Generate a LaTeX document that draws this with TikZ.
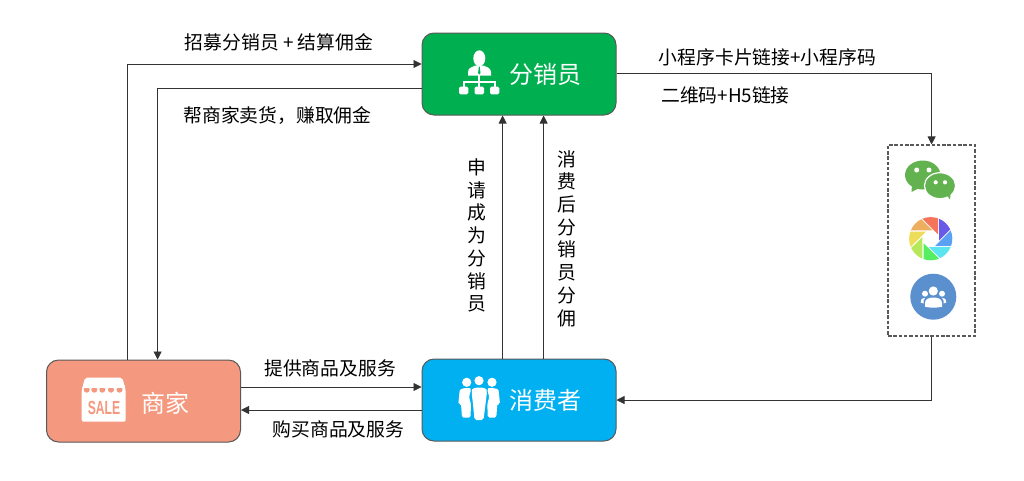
\documentclass[tikz,border=0pt]{standalone}
\usepackage{fontspec}
\setmainfont{Noto Sans CJK SC}
\newfontfamily\salefont{Liberation Sans}
\usetikzlibrary{arrows.meta,calc}
\definecolor{edgegray}{HTML}{595959}
\definecolor{linegray}{HTML}{333333}
\definecolor{fxgreen}{HTML}{00B050}
\definecolor{xfblue}{HTML}{00B0F0}
\definecolor{sjsalmon}{HTML}{F4997F}
\definecolor{wxgreen}{HTML}{62B34F}
\definecolor{circblue}{HTML}{5B90CF}
\tikzset{
  rolebox/.style={draw=edgegray,line width=1pt,rounded corners=12pt,minimum width=194pt,minimum height=82pt,inner sep=0pt},
  roletext/.style={text=white,font=\fontsize{24}{28}\selectfont,inner sep=0pt},
  lbl/.style={text=black,font=\fontsize{18.8}{22}\selectfont,inner sep=0pt},
  vlbl/.style={text=black,font=\fontsize{18.8}{22.7}\selectfont,inner sep=0pt,align=center},
  conn/.style={draw=linegray,line width=0.8pt,-{Triangle[length=8pt,width=8pt]}},
  poolbox/.style={draw=edgegray,line width=1.1pt,dash pattern=on 3.5pt off 1.8pt,minimum width=87pt,minimum height=191pt,inner sep=0pt},
}
\begin{document}
\begin{tikzpicture}[x=1pt,y=-1pt]
\useasboundingbox (0,0) rectangle (1024,480);
\fill[white] (0,0) rectangle (1024,480);

% boxes
\node[rolebox,fill=fxgreen] (fx) at (519,74) {};
\node[rolebox,fill=xfblue] (xf) at (519,400) {};
\node[rolebox,fill=sjsalmon] (sj) at (143.5,401) {};
\node[poolbox] (pool) at (931.5,240.5) {};

% route helpers
\coordinate (upx) at (127.6,64);
\coordinate (downx) at (157.6,88);
\coordinate (sellout) at (240,387);
\coordinate (buyin) at (240,410);
\coordinate (joinx) at (502.6,240);
\coordinate (sharex) at (543.6,240);
\coordinate (outy) at (931.6,73);
\coordinate (backy) at (931.6,400);

% connectors
\draw[conn] (upx |- sj.north) -- (upx) -- (upx -| fx.west);
\draw[conn] (downx -| fx.west) -- (downx) -- (downx |- sj.north);
\draw[conn] (sellout -| sj.east) -- (sellout -| xf.west);
\draw[conn] (buyin -| xf.west) -- (buyin -| sj.east);
\draw[conn] (joinx |- xf.north) -- (joinx |- fx.south);
\draw[conn] (sharex |- xf.north) -- (sharex |- fx.south);
\draw[conn] (outy -| fx.east) -- (outy) -- (outy |- pool.north);
\draw[conn] (backy |- pool.south) -- (backy) -- (backy -| xf.east);

% texts
\node[roletext] (fxt) at (545,74) {分销员};
\node[roletext] (xft) at (545,400) {消费者};
\node[roletext] (sjt) at (165,403) {商家};
\node[lbl] (l1) at (279,42.7) {招募分销员 + 结算佣金};
\node[lbl] (l2) at (277.5,116) {帮商家卖货，赚取佣金};
\node[lbl] (l3) at (767.5,57) {小程序卡片链接+小程序码};
\node[lbl] (l4) at (725.5,95) {二维码+H5链接};
\node[lbl] (l5) at (330,368) {提供商品及服务};
\node[lbl] (l6) at (338.5,429) {购买商品及服务};
\node[vlbl] (v1) at (477,235.5) {申\\请\\成\\为\\分\\销\\员};
\node[vlbl] (v2) at (567,238.5) {消\\费\\后\\分\\销\\员\\分\\佣};

% organisation icon
\fill[white] (479.3,58.3) ellipse (6 and 8);
\fill[white] (468,75.5) -- (468,72) .. controls (468,68) and (472,67) .. (475,65.5) -- (483.5,65.5) .. controls (486.5,67) and (491,68) .. (491,72) -- (491,75.5) -- cycle;
\fill[fxgreen] (478.9,66.5) -- (479.7,66.5) -- (480.5,73) -- (479.3,74.5) -- (478.1,73) -- cycle;
\draw[white,line width=1.7pt] (479.3,75) -- (479.3,87) (463.7,87) -- (463.7,82.3) -- (495,82.3) -- (495,87);
\fill[white,rounded corners=1.5pt] (459,86.7) rectangle (468.3,94.3);
\fill[white,rounded corners=1.5pt] (474.5,86.7) rectangle (484,94.3);
\fill[white,rounded corners=1.5pt] (490,86.7) rectangle (499.3,94.3);

% people icon
\foreach \hx/\hy in {466.7/382.3,479/380.7,492/382.3} \fill[white] (\hx,\hy) circle (4.6);
\fill[white,rounded corners=1.5pt] (458.3,404) -- (459.5,392) .. controls (460,389) and (464,388) .. (467,388) .. controls (469,388) and (470.5,388.5) .. (471,390) -- (469,397) -- (471,404) -- (470.5,417.5) -- (462,417.5) -- (461,404) -- cycle;
\fill[white,rounded corners=1.5pt] (500,404) -- (498.8,392) .. controls (498.3,389) and (494.3,388) .. (491.3,388) .. controls (489.3,388) and (487.8,388.5) .. (487.3,390) -- (489.3,397) -- (487.3,404) -- (487.8,417.5) -- (496.3,417.5) -- (497.3,404) -- cycle;
\fill[white,rounded corners=2pt] (471.5,392) .. controls (472,388.5) and (476,387.5) .. (479.3,387.5) .. controls (482.5,387.5) and (486.5,388.5) .. (487,392) -- (485.5,404) -- (483.5,420) -- (474.5,420) -- (473,404) -- cycle;

% sale icon
\fill[white,rounded corners=2pt] (81.7,421.7) -- (81.7,390) -- (85,377.7) -- (122.3,377.7) -- (125.7,390) -- (125.7,421.7) -- cycle;
\foreach \sx in {86.7,94.3,102.3,111,119.5} \fill[sjsalmon] (\sx,389.7) circle (3);
\fill[white] (83,385) rectangle (124.5,388);
\node[text=sjsalmon,inner sep=0pt,xscale=0.64,font=\salefont\bfseries\fontsize{19}{20}\selectfont] (saletxt) at (104,407.5) {SALE};

% wechat icon
\fill[wxgreen] (922.7,175) ellipse (17.7 and 14.5);
\fill[wxgreen] (912,184) -- (911.5,192) -- (921,187) -- cycle;
\fill[white] (916.7,170) circle (2.5) (929,170) circle (2.5);
\fill[wxgreen,draw=white,line width=1.2pt] (940,185.7) ellipse (15.6 and 13);
\fill[wxgreen] (946,194) -- (950,199.5) -- (951,190) -- cycle;
\fill[white] (935.7,182.3) circle (2.1) (945,182.3) circle (2.1);

% aperture icon
\begin{scope}[shift={(930.7,238.7)},x=1pt,y=1pt]
  \foreach \ang/\col in {0/6A5AE8,-45/5AA0F5,-90/5CE5EE,-135/55EE60,-180/B5E85A,-225/EEDD5A,-270/EEAE60,-315/F5745A}{
    \definecolor{bladecol}{HTML}{\col}
    \fill[bladecol,rotate=\ang] (67.5:21.6) arc[start angle=67.5,end angle=25.5,radius=21.6] -- (8.3,-1.8) -- cycle;
  }
\end{scope}

% group icon
\fill[circblue] (933.3,296.7) circle (23);
\fill[white] (933.3,291) circle (4.6) (925,293.7) circle (3) (942,293.7) circle (3);
\fill[circblue] (925,297) rectangle (942,299);
\fill[white] (925,306.7) -- (925,303) .. controls (925,299) and (929,297.5) .. (933.5,297.5) .. controls (938,297.5) and (942,299) .. (942,303) -- (942,306.7) .. controls (937,308) and (930,308) .. (925,306.7) -- cycle;
\fill[white] (923.5,303.5) -- (920.7,302.5) .. controls (920.7,299.5) and (921.5,298.3) .. (925,298) -- (923.5,300.5) -- cycle;
\fill[white] (943.5,303.5) -- (946.3,302.5) .. controls (946.3,299.5) and (945.5,298.3) .. (942,298) -- (943.5,300.5) -- cycle;
\end{tikzpicture}
\end{document}
